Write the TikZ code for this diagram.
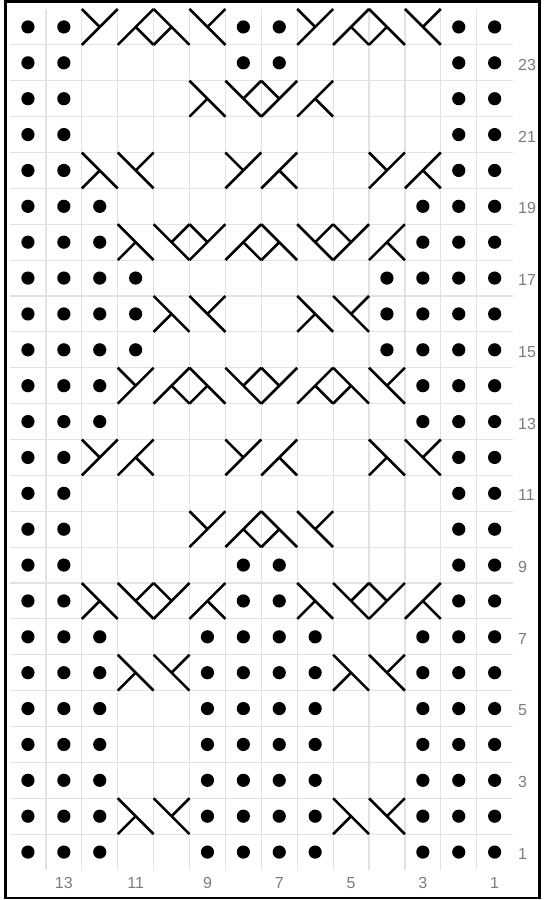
\documentclass[tikz,border=0pt]{standalone}
\usepackage{fontspec}
\setmainfont{Liberation Sans}
\definecolor{Ink}{HTML}{000000}
\definecolor{GridGray}{HTML}{E2E2E2}
\definecolor{LabelGray}{HTML}{7C7C7C}
\newcommand{\cellw}{35.9}
\newcommand{\cellh}{35.875}
\newcommand{\hc}{17.95}
\tikzset{
  gridline/.style={draw=GridGray, line width=1.2pt},
  cable/.style={draw=Ink, line width=2.6pt},
  frame/.style={draw=Ink, line width=2.6pt},
  rowlabel/.style={anchor=west, inner sep=0pt, text=LabelGray,
    font=\fontsize{16}{16}\selectfont},
  collabel/.style={inner sep=0pt, text=LabelGray,
    font=\fontsize{16}{16}\selectfont},
  % one symbol per cell
  pics/o/.style={code={\fill[Ink] (0,0) circle (6.6pt);}},
  pics/k/.style={code={}},
  pics/P/.style={code={\draw[cable] (-\hc,\hc) -- (\hc,-\hc) (-\hc,-\hc) -- (0,0);}},
  pics/Q/.style={code={\draw[cable] (-\hc,\hc) -- (\hc,-\hc) (0,0) -- (\hc,\hc);}},
  pics/R/.style={code={\draw[cable] (-\hc,-\hc) -- (\hc,\hc) (-\hc,\hc) -- (0,0);}},
  pics/S/.style={code={\draw[cable] (-\hc,-\hc) -- (\hc,\hc) (0,0) -- (\hc,-\hc);}}
}

\begin{document}
\begin{tikzpicture}[x=1pt,y=-1pt]
  \useasboundingbox (0,0) rectangle (544,900);
  \draw[frame] (5.3,1.4) rectangle (539.5,897.9);
  % grid
  \foreach \k in {1,...,13}
    \draw[gridline] ({10+\k*\cellw},9) -- ({10+\k*\cellw},870);
  \foreach \k in {1,...,23}
    \draw[gridline] (10,{9+\k*\cellh}) -- (513,{9+\k*\cellh});
  % chart rows, top (24) to bottom (1)
  \foreach \rowspec [count=\r] in {
    {o,o,P,Q,R,S,o,o,P,Q,R,S,o,o},
    {o,o,k,k,k,k,o,o,k,k,k,k,o,o},
    {o,o,k,k,k,R,S,P,Q,k,k,k,o,o},
    {o,o,k,k,k,k,k,k,k,k,k,k,o,o},
    {o,o,R,S,k,k,P,Q,k,k,P,Q,o,o},
    {o,o,o,k,k,k,k,k,k,k,k,o,o,o},
    {o,o,o,R,S,P,Q,R,S,P,Q,o,o,o},
    {o,o,o,o,k,k,k,k,k,k,o,o,o,o},
    {o,o,o,o,R,S,k,k,R,S,o,o,o,o},
    {o,o,o,o,k,k,k,k,k,k,o,o,o,o},
    {o,o,o,P,Q,R,S,P,Q,R,S,o,o,o},
    {o,o,o,k,k,k,k,k,k,k,k,o,o,o},
    {o,o,P,Q,k,k,P,Q,k,k,R,S,o,o},
    {o,o,k,k,k,k,k,k,k,k,k,k,o,o},
    {o,o,k,k,k,P,Q,R,S,k,k,k,o,o},
    {o,o,k,k,k,k,o,o,k,k,k,k,o,o},
    {o,o,R,S,P,Q,o,o,R,S,P,Q,o,o},
    {o,o,o,k,k,o,o,o,o,k,k,o,o,o},
    {o,o,o,R,S,o,o,o,o,R,S,o,o,o},
    {o,o,o,k,k,o,o,o,o,k,k,o,o,o},
    {o,o,o,k,k,o,o,o,o,k,k,o,o,o},
    {o,o,o,k,k,o,o,o,o,k,k,o,o,o},
    {o,o,o,R,S,o,o,o,o,R,S,o,o,o},
    {o,o,o,k,k,o,o,o,o,k,k,o,o,o}}
  {
    \foreach \s [count=\c] in \rowspec
      \pic at ({10+(\c-0.5)*\cellw},{9+(\r-0.5)*\cellh}) {\s};
  }
  % numbers
  \foreach \n in {1,3,...,23}
    \node[rowlabel] (row\n) at (518,{9+(24.5-\n)*\cellh+2}) {\n};
  \foreach \n in {1,3,...,13}
    \node[collabel] (col\n) at ({10+(14.5-\n)*\cellw},883) {\n};
\end{tikzpicture}
\end{document}
